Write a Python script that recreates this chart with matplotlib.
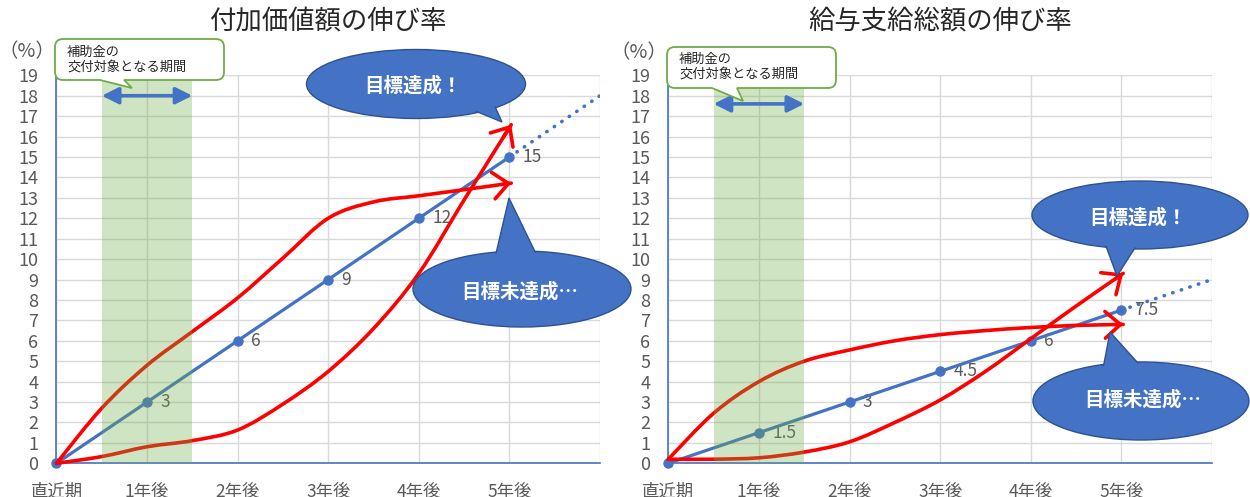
import matplotlib
matplotlib.use('Agg')
import matplotlib.pyplot as plt
from matplotlib.path import Path
from matplotlib.patches import PathPatch, Ellipse, Polygon, FancyArrowPatch

plt.rcParams['font.family'] = ['Noto Sans CJK JP', 'DejaVu Sans']

# ---------------- data ----------------
categories = ['直近期', '1年後', '2年後', '3年後', '4年後', '5年後']
titles = ['付加価値額の伸び率', '給与支給総額の伸び率']
yticks = list(range(0, 20))

left_target = [0, 3, 6, 9, 12, 15]
left_projection = [15, 18]          # 5年後 -> beyond
left_labels = ['', '3', '6', '9', '12', '15']
right_target = [0, 1.5, 3, 4.5, 6, 7.5]
right_projection = [7.5, 9]
right_labels = ['', '1.5', '3', '4.5', '6', '7.5']

curve_x = [0, 0.5, 1, 1.5, 2, 2.5, 3, 3.5, 4, 4.5, 5.02]
left_miss = [0, 2.7, 4.8, 6.45, 8.1, 10.05, 12.0, 12.8, 13.1, 13.4, 13.72]
left_hit = [0, 0.33, 0.81, 1.11, 1.63, 2.9, 4.5, 6.6, 9.3, 12.9, 16.58]
right_miss = [0.2, 2.45, 4.0, 5.0, 5.55, 6.0, 6.3, 6.5, 6.65, 6.75, 6.8]
right_hit = [0.2, 0.2, 0.27, 0.55, 1.05, 2.0, 3.1, 4.5, 6.1, 7.7, 9.3]

subsidy_period = (0.5, 1.5)
callout_text = '補助金の\n交付対象となる期間'
hit_text = '目標達成！'
miss_text = '目標未達成…'

BLUE = '#4472C4'
RED = '#FF0000'
GRAY = '#595959'
GRID = '#D9D9D9'

W, H = 1250, 497
fig = plt.figure(figsize=(W / 100, H / 100), dpi=100)


def px_axes(x0, x1, ytop, ybot):
    return fig.add_axes([x0 / W, 1 - ybot / H, (x1 - x0) / W, (ybot - ytop) / H])


def smooth_path(xs, ys):
    pts = list(zip(xs, ys))
    n = len(pts)
    verts = [pts[0]]
    codes = [Path.MOVETO]
    for i in range(n - 1):
        p0 = pts[i - 1] if i > 0 else pts[i]
        p1 = pts[i]
        p2 = pts[i + 1]
        p3 = pts[i + 2] if i + 2 < n else pts[i + 1]
        c1 = (p1[0] + (p2[0] - p0[0]) / 6, p1[1] + (p2[1] - p0[1]) / 6)
        c2 = (p2[0] - (p3[0] - p1[0]) / 6, p2[1] - (p3[1] - p1[1]) / 6)
        verts += [c1, c2, p2]
        codes += [Path.CURVE4] * 3
    return Path(verts, codes), verts[-2]


def draw_panel(ax, title, target, projection, labels, curves, arrow_y):
    x = list(range(len(target)))
    ax.set_xlim(0, 6)
    ax.set_ylim(0, 19)
    ax.set_xticks(range(7))
    ax.set_xticklabels(categories + [''])
    ax.set_yticks(yticks)
    ax.grid(True, color=GRID, lw=1.0)
    ax.set_axisbelow(True)
    ax.tick_params(length=0, labelsize=13, labelcolor=GRAY)
    ax.tick_params(axis='y', pad=13)
    ax.tick_params(axis='x', pad=14, labelsize=12.5)
    for s in ['top', 'right']:
        ax.spines[s].set_visible(False)
    for s in ['left', 'bottom']:
        ax.spines[s].set_color(BLUE)
        ax.spines[s].set_linewidth(1.2)

    ax.plot(x, target, color=BLUE, lw=2.3, marker='o', ms=6.5, zorder=3, clip_on=False)
    ax.plot([x[-1], x[-1] + 1], projection, color=BLUE, lw=2.6,
            ls=(0, (0.1, 2.4)), dash_capstyle='round', zorder=3)
    for xi, yi, lab in zip(x, target, labels):
        if lab:
            ax.annotate(lab, (xi, yi), xytext=(9.5, 0), textcoords='offset points',
                        ha='left', va='center', fontsize=12.5, color=GRAY, zorder=2.5)

    for ys in curves:
        path, c2 = smooth_path(curve_x, ys)
        ax.add_patch(PathPatch(path, fc='none', ec=RED, lw=2.6, zorder=3.5,
                               capstyle='round', joinstyle='round', clip_on=False))
        tip = (curve_x[-1], ys[-1])
        ax.add_patch(FancyArrowPatch(c2, tip, arrowstyle='->,head_length=0.55,head_width=0.48',
                                     mutation_scale=20, lw=2.6, color=RED, shrinkA=0, shrinkB=0,
                                     zorder=3.5, clip_on=False))

    ax.axvspan(*subsidy_period, color='#70AD47', alpha=0.33, lw=0, zorder=4)
    ax.add_patch(FancyArrowPatch((subsidy_period[0], arrow_y), (subsidy_period[1], arrow_y),
                                 arrowstyle='<|-|>,head_length=0.5,head_width=0.25',
                                 mutation_scale=20, lw=2.6, color=BLUE, shrinkA=0, shrinkB=0,
                                 zorder=6))


axL = px_axes(56.5, 600, 75.3, 463.3)
axR = px_axes(668.3, 1212, 75.3, 463.3)
draw_panel(axL, titles[0], left_target, left_projection, left_labels, [left_miss, left_hit], 18)
draw_panel(axR, titles[1], right_target, right_projection, right_labels, [right_miss, right_hit], 17.6)

fig.text(328 / W, 1 - 22 / H, titles[0], ha='center', va='center', fontsize=19, color='#262626')
fig.text(940 / W, 1 - 22 / H, titles[1], ha='center', va='center', fontsize=19, color='#262626')
fig.text(27 / W, 1 - 52 / H, '（%）', ha='center', va='center', fontsize=14, color=GRAY)
fig.text(639 / W, 1 - 53 / H, '（%）', ha='center', va='center', fontsize=14, color=GRAY)

# ---------------- overlay callouts (pixel space) ----------------
ov = fig.add_axes([0, 0, 1, 1], zorder=10)
ov.set_xlim(0, W)
ov.set_ylim(H, 0)
ov.axis('off')
ov.patch.set_alpha(0)


def rounded_callout(x0, y0, x1, y1, r, b0, b1, tip, text, tx, ty):
    verts = [(x0 + r, y0), (x1 - r, y0), (x1, y0), (x1, y0 + r), (x1, y1 - r), (x1, y1), (x1 - r, y1),
             (b1, y1), tip, (b0, y1), (x0 + r, y1), (x0, y1), (x0, y1 - r), (x0, y0 + r), (x0, y0),
             (x0 + r, y0), (x0 + r, y0)]
    codes = [Path.MOVETO, Path.LINETO, Path.CURVE3, Path.CURVE3, Path.LINETO, Path.CURVE3, Path.CURVE3,
             Path.LINETO, Path.LINETO, Path.LINETO, Path.LINETO, Path.CURVE3, Path.CURVE3, Path.LINETO,
             Path.CURVE3, Path.CURVE3, Path.CLOSEPOLY]
    ov.add_patch(PathPatch(Path(verts, codes), fc='white', ec='#70AD47', lw=1.3))
    ov.text(tx, ty, text, ha='left', va='center', fontsize=9.5, color='#262626', linespacing=1.15)


def wedge_ellipse(cx, cy, w, h, base, tip, text, tx, ty):
    fc, ec = BLUE, '#2F528F'
    ov.add_patch(Ellipse((cx, cy), w, h, fc=fc, ec=ec, lw=1))
    ov.add_patch(Polygon([base[0], tip, base[1]], closed=True, fc=fc, ec=ec, lw=1))
    ov.add_patch(Ellipse((cx, cy), w - 3, h - 3, fc=fc, ec='none'))
    ov.text(tx, ty, text, color='white', fontsize=14, fontweight='bold', ha='center', va='center')


rounded_callout(55, 39, 224, 80, 8, 100, 124, (132, 88), callout_text, 67, 60)
rounded_callout(667, 47, 836, 88, 8, 712, 737, (743, 101), callout_text, 679, 67)

wedge_ellipse(416, 84, 219, 69, [(468, 108), (492, 100)], (502, 122), hit_text, 413, 86)
wedge_ellipse(522, 289, 218, 76, [(494, 262), (540, 262)], (509, 198), miss_text, 520, 292)
wedge_ellipse(1140, 215, 216, 68, [(1103, 238), (1140, 240)], (1117, 276), hit_text, 1138, 218)
wedge_ellipse(1141, 401, 216, 78, [(1102, 374), (1146, 372)], (1110, 332), miss_text, 1143, 400)

fig.savefig('out.png', dpi=100)
